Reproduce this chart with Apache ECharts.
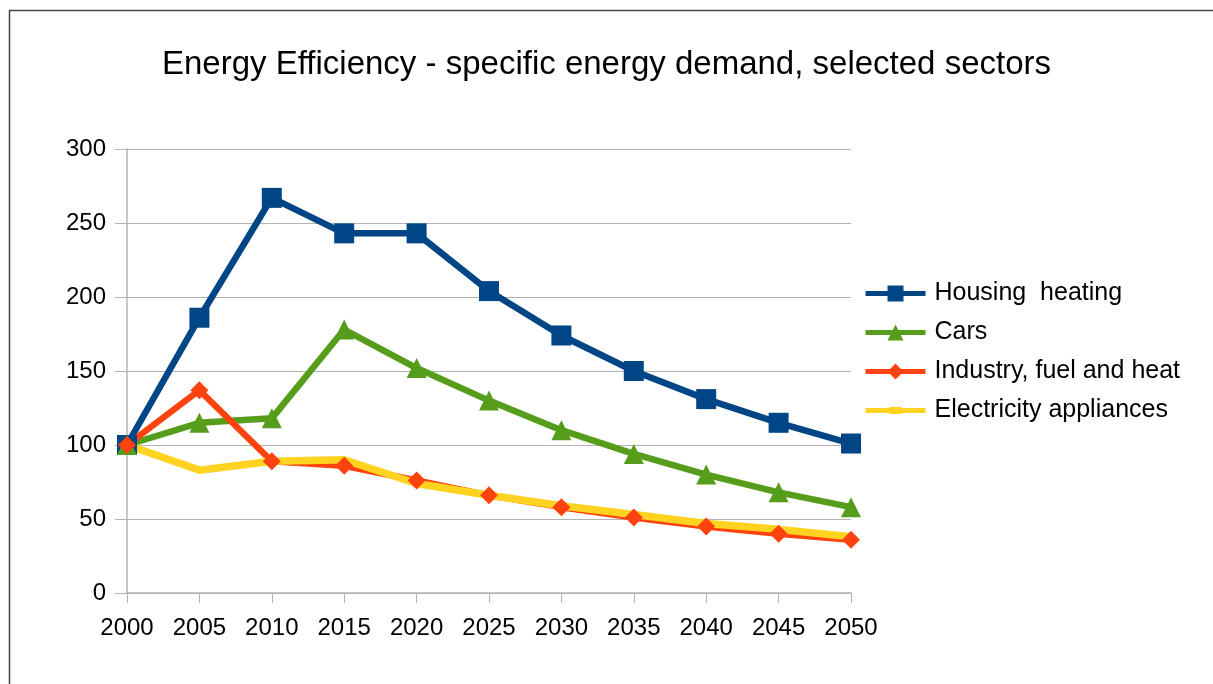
<!DOCTYPE html>
<html>
<head>
<meta charset="utf-8">
<script src="https://cdn.jsdelivr.net/npm/echarts@6/dist/echarts.min.js"></script>
<style>html,body{margin:0;padding:0;background:#fff;}#c{width:1213px;height:684px;}</style>
</head>
<body>
<div id="c"></div>
<script>
const years = ['2000','2005','2010','2015','2020','2025','2030','2035','2040','2045','2050'];
const housingHeating = [100, 186, 267, 243, 243, 204, 174, 150, 131, 115, 101];
const cars = [100, 115, 118, 178, 152, 130, 110, 94, 80, 68, 58];
const industryFuelHeat = [100, 137, 89, 86, 76, 66, 58, 51, 45, 40, 36];
const electricityAppliances = [100, 83, 89, 90, 74, 66, 59, 53, 47, 43, 38];
const seriesNames = ['Housing  heating', 'Cars', 'Industry, fuel and heat', 'Electricity appliances'];

const font = '"Liberation Sans", Arial, sans-serif';
const chart = echarts.init(document.getElementById('c'), null, {renderer: 'canvas'});
function line(name, data, color, symbol, size, width) {
  return {
    name, type: 'line', data,
    symbol, symbolSize: size, showSymbol: symbol !== 'none',
    lineStyle: {color, width},
    itemStyle: {color},
    emphasis: {disabled: true},
    animation: false
  };
}
chart.setOption({
  backgroundColor: '#fff',
  graphic: [{
    type: 'rect', left: 7, top: 8, shape: {width: 1230, height: 700},
    style: {fill: 'none', stroke: '#444', lineWidth: 1.5}, silent: true
  }],
  title: {
    text: 'Energy Efficiency - specific energy demand, selected sectors',
    left: 'center', top: 43,
    textStyle: {fontFamily: font, fontSize: 33, fontWeight: 'normal', color: '#000'}
  },
  grid: {left: 127, right: 362, top: 149, bottom: 91},
  legend: {
    orient: 'vertical', left: 858, top: 276,
    itemWidth: 60, itemHeight: 20, itemGap: 14,
    lineStyle: {width: 5},
    textStyle: {fontFamily: font, fontSize: 25, lineHeight: 25, color: '#000', padding: [0,0,0,4]},
    data: [
      {name: seriesNames[0]},
      {name: seriesNames[1]},
      {name: seriesNames[2]},
      {name: seriesNames[3], icon: 'path://M0,1 L24,1 L24,0 L36,0 L36,1 L60,1 L60,6 L36,6 L36,7 L24,7 L24,6 L0,6 Z'}
    ]
  },
  xAxis: {
    type: 'category', data: years, boundaryGap: false,
    axisLine: {lineStyle: {color: '#b3b3b3', width: 1.5}},
    axisTick: {show: true, alignWithLabel: true, length: 10, lineStyle: {color: '#b3b3b3'}},
    axisLabel: {fontFamily: font, fontSize: 24, color: '#000', margin: 23},
    splitLine: {show: false}
  },
  yAxis: {
    type: 'value', min: 0, max: 300, interval: 50,
    axisLine: {show: true, lineStyle: {color: '#b3b3b3', width: 1.5}},
    axisTick: {show: true, length: 12, lineStyle: {color: '#b3b3b3'}},
    axisLabel: {fontFamily: font, fontSize: 24, color: '#000', margin: 21},
    splitLine: {show: true, lineStyle: {color: '#b3b3b3', width: 1}}
  },
  series: [
    line(seriesNames[0], housingHeating, '#004586', 'rect', 20, 6.5),
    line(seriesNames[1], cars, '#579d1c', 'triangle', 20, 6.5),
    line(seriesNames[2], industryFuelHeat, '#ff420e', 'diamond', 18, 6.5),
    line(seriesNames[3], electricityAppliances, '#ffd320', 'none', 10, 7.5)
  ]
});
</script>
</body>
</html>
